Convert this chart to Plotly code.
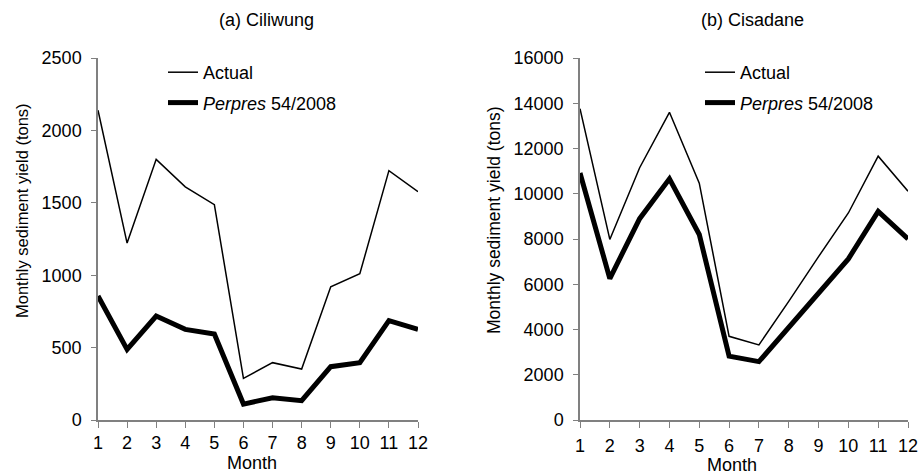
import plotly.graph_objects as go

months = list(range(1, 13))

# (a) Ciliwung, monthly sediment yield (tons)
ciliwung_actual = [2140, 1222, 1800, 1610, 1487, 288, 396, 352, 920, 1010, 1722, 1577]
ciliwung_perpres = [856, 488, 718, 626, 594, 110, 154, 133, 368, 396, 686, 626]

# (b) Cisadane, monthly sediment yield (tons)
cisadane_actual = [13760, 7980, 11150, 13600, 10470, 3700, 3320, 5240, 7220, 9150, 11660, 10110]
cisadane_perpres = [10920, 6250, 8900, 10660, 8200, 2820, 2580, 4070, 5610, 7120, 9220, 8000]

left_ticks = [0, 500, 1000, 1500, 2000, 2500]
right_ticks = [0, 2000, 4000, 6000, 8000, 10000, 12000, 14000, 16000]

FONT = "Liberation Sans, Arial, sans-serif"
AXIS_GREY = "#808080"
FS = 18
W, H = 922, 475

fig = go.Figure()

fig.add_trace(go.Scatter(x=months, y=ciliwung_actual, mode="lines", name="Actual",
                         line=dict(color="black", width=1.5), xaxis="x", yaxis="y",
                         legend="legend", legendgroup="a1"))
fig.add_trace(go.Scatter(x=months, y=ciliwung_perpres, mode="lines",
                         name="<i>Perpres</i> 54/2008",
                         line=dict(color="black", width=5), xaxis="x", yaxis="y",
                         legend="legend", legendgroup="a2"))
fig.add_trace(go.Scatter(x=months, y=cisadane_actual, mode="lines", name="Actual",
                         line=dict(color="black", width=1.5), xaxis="x2", yaxis="y2",
                         legend="legend2", legendgroup="b1"))
fig.add_trace(go.Scatter(x=months, y=cisadane_perpres, mode="lines",
                         name="<i>Perpres</i> 54/2008",
                         line=dict(color="black", width=5), xaxis="x2", yaxis="y2",
                         legend="legend2", legendgroup="b2"))

ydom = [(H - 420) / H, (H - 58) / H]

xaxis_common = dict(
    range=[1, 12], tickmode="array", tickvals=months, ticktext=[str(m) for m in months],
    showline=True, linecolor=AXIS_GREY, linewidth=1.5, ticks="outside", ticklen=6,
    tickcolor=AXIS_GREY, showgrid=False, zeroline=False,
    tickfont=dict(family=FONT, size=FS, color="black"),
)
yaxis_common = dict(
    showline=True, linecolor=AXIS_GREY, linewidth=1.5, ticks="outside", ticklen=5,
    tickcolor=AXIS_GREY, showgrid=False, zeroline=False, domain=ydom,
    ticklabelstandoff=6, tickmode="array",
    tickfont=dict(family=FONT, size=FS, color="black"),
)

legend_common = dict(
    font=dict(family=FONT, size=FS, color="black"), bgcolor="rgba(0,0,0,0)",
    tracegroupgap=4, xanchor="left", yanchor="top", itemwidth=30,
)

fig.update_layout(
    width=W, height=H,
    margin=dict(l=0, r=0, t=0, b=0, autoexpand=False),
    paper_bgcolor="white", plot_bgcolor="white",
    xaxis=dict(domain=[98 / W, 418 / W], anchor="y", ticklabelstandoff=0, **xaxis_common),
    yaxis=dict(range=[0, 2500], tickvals=left_ticks,
               ticktext=[str(v) for v in left_ticks], anchor="x", **yaxis_common),
    xaxis2=dict(domain=[580 / W, 908 / W], anchor="y2", ticklabelstandoff=3, **xaxis_common),
    yaxis2=dict(range=[0, 16000], tickvals=right_ticks,
                ticktext=[str(v) for v in right_ticks], anchor="x2", **yaxis_common),
    legend=dict(x=163 / W, y=(H - 54) / H, **legend_common),
    legend2=dict(x=700 / W, y=(H - 54) / H, **legend_common),
    showlegend=True,
)

annotations = [
    dict(text="(a) Ciliwung", x=266 / W, y=(H - 20) / H, size=18),
    dict(text="(b) Cisadane", x=752 / W, y=(H - 20) / H, size=18),
    dict(text="Month", x=252 / W, y=(H - 463) / H, size=18),
    dict(text="Month", x=732 / W, y=(H - 465) / H, size=18),
    dict(text="Monthly sediment yield (tons)", x=22 / W, y=(H - 211) / H,
         textangle=-90, size=16.5),
    dict(text="Monthly sediment yield (tons)", x=494 / W, y=(H - 220) / H,
         textangle=-90, size=17.5),
]
for a in annotations:
    size = a.pop("size")
    fig.add_annotation(xref="paper", yref="paper", showarrow=False,
                       xanchor="center", yanchor="middle",
                       font=dict(family=FONT, size=size, color="black"), **a)

fig.write_html("out.html")
